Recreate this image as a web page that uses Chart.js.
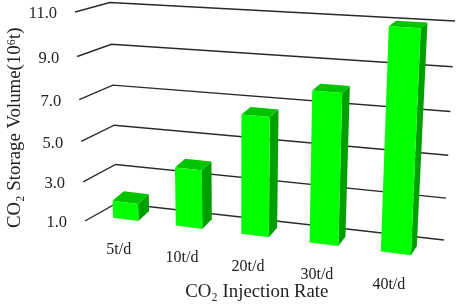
<!DOCTYPE html>
<html>
<head>
<meta charset="utf-8">
<style>
  html, body { margin: 0; padding: 0; background: #fff; }
  #wrap { width: 457px; height: 307px; }
</style>
<script src="https://cdn.jsdelivr.net/npm/chart.js@4"></script>
</head>
<body>
<div id="wrap"><canvas id="myChart" width="457" height="307"></canvas></div>
<script>
// Data
const categories = ['5t/d', '10t/d', '20t/d', '30t/d', '40t/d'];
const storageVolume = [1.85, 3.85, 6.65, 8.0, 11.0];
const tickLabels = ['1.0', '3.0', '5.0', '7.0', '9.0', '11.0'];

const textColor = '#222';
const fontName = '"Liberation Serif", "Times New Roman", serif';

// Maps the unit square onto a quad: [bottom-left, bottom-right, top-right, top-left]
function makeQuad(p) {
  const [p0, p1, p2, p3] = p;
  const dx1 = p1[0] - p2[0], dx2 = p3[0] - p2[0], sx = p0[0] - p1[0] + p2[0] - p3[0];
  const dy1 = p1[1] - p2[1], dy2 = p3[1] - p2[1], sy = p0[1] - p1[1] + p2[1] - p3[1];
  const den = dx1 * dy2 - dx2 * dy1;
  const g = (sx * dy2 - dx2 * sy) / den;
  const h = (dx1 * sy - sx * dy1) / den;
  const a = p1[0] - p0[0] + g * p1[0], b = p3[0] - p0[0] + h * p3[0];
  const d = p1[1] - p0[1] + g * p1[1], e = p3[1] - p0[1] + h * p3[1];
  return (u, v) => {
    const w = g * u + h * v + 1;
    return [(a * u + b * v + p0[0]) / w, (d * u + e * v + p0[1]) / w];
  };
}

// The tilted view of the plot
const backWall = makeQuad([[117, 203], [444, 240], [455, 21], [110, 2.5]]);
const sideWall = makeQuad([[85, 221], [117, 203], [110, 2.5], [75, 12]]);
const barPlane = makeQuad([[95, 215.4], [433, 258], [444, 29.5], [88, 9]]);

// How far the rear of a bar sits from its front, by position on the plot
function depthAt(u, v) {
  const dx = (11.5 * (1 - u) + 5.5 * u) * (1 - v) + (12 * (1 - u) + 6.5 * u) * v;
  const dy = (-10 * (1 - u) - 9 * u) * (1 - v) + (-6.5 * (1 - u) - 5.5 * u) * v;
  return [dx, dy];
}

function fillFace(ctx, pts, color) {
  ctx.fillStyle = color;
  ctx.beginPath();
  pts.forEach((p, i) => i ? ctx.lineTo(p[0], p[1]) : ctx.moveTo(p[0], p[1]));
  ctx.closePath();
  ctx.fill();
}

const view3d = {
  id: 'view3d',
  // gridlines and value labels
  beforeDatasetsDraw(chart) {
    const ctx = chart.ctx, yScale = chart.scales.y, area = chart.chartArea;
    ctx.save();
    ctx.strokeStyle = '#2a2a2a';
    ctx.lineWidth = 1.4;
    ctx.font = '16.5px ' + fontName;
    ctx.fillStyle = textColor;
    ctx.textAlign = 'right';
    ctx.textBaseline = 'middle';
    tickLabels.forEach(label => {
      const y = yScale.getPixelForValue(parseFloat(label));
      const v = (area.bottom - y) / (area.bottom - area.top);
      const front = sideWall(0, v), corner = backWall(0, v), end = backWall(1, v);
      ctx.beginPath();
      ctx.moveTo(front[0], front[1]);
      ctx.lineTo(corner[0], corner[1]);
      ctx.lineTo(end[0], end[1]);
      ctx.stroke();
      ctx.fillText(label, front[0] - 18, front[1] + 2);
    });
    ctx.restore();
  },
  // bars, with the positions the scales gave them
  beforeDatasetDraw(chart, args) {
    const ctx = chart.ctx, area = chart.chartArea;
    const uOf = x => (x - area.left) / (area.right - area.left);
    const vOf = y => (area.bottom - y) / (area.bottom - area.top);
    ctx.save();
    args.meta.data.forEach((bar, i) => {
      const u0 = uOf(bar.x - bar.width / 2), u1 = uOf(bar.x + bar.width / 2);
      const v0 = vOf(bar.base), v1 = vOf(bar.y);
      const back = (u, v) => {
        const p = barPlane(u, v), d = depthAt(u, v);
        return [p[0] + d[0], p[1] + d[1]];
      };
      fillFace(ctx, [barPlane(u1, v0), back(u1, v0), back(u1, v1), barPlane(u1, v1)], '#009f00');
      fillFace(ctx, [barPlane(u0, v1), barPlane(u1, v1), back(u1, v1), back(u0, v1)], '#00c400');
      fillFace(ctx, [barPlane(u0, v0), barPlane(u1, v0), barPlane(u1, v1), barPlane(u0, v1)], '#00ff00');

      const foot = barPlane(uOf(bar.x), v0);
      ctx.font = '16px ' + fontName;
      ctx.fillStyle = textColor;
      ctx.textAlign = 'center';
      ctx.textBaseline = 'middle';
      ctx.fillText(categories[i], foot[0] - 7, foot[1] + 31);
    });
    ctx.restore();
    return false;
  }
};

const ctx = document.getElementById('myChart').getContext('2d');
const myChart = new Chart(ctx, {
  type: 'bar',
  data: {
    labels: categories,
    datasets: [{
      label: 'CO₂ Storage Volume',
      data: storageVolume,
      base: 1,
      backgroundColor: '#00ff00',
      barPercentage: 0.41,
      categoryPercentage: 1
    }]
  },
  options: {
    responsive: false,
    animation: false,
    layout: { padding: { left: 4, right: 14, top: 19, bottom: 4 } },
    plugins: { legend: { display: false }, tooltip: { enabled: false } },
    scales: {
      x: {
        grid: { display: false },
        border: { display: false },
        ticks: { display: false },
        title: {
          display: true,
          text: 'CO₂ Injection Rate',
          color: textColor,
          font: { family: fontName, size: 18.8 },
          padding: { top: 36, bottom: 0 }
        }
      },
      y: {
        min: 1,
        max: 11,
        grid: { display: false },
        border: { display: false },
        ticks: { display: false, stepSize: 2 },
        title: {
          display: true,
          text: 'CO₂ Storage Volume(10⁶t)',
          color: textColor,
          font: { family: fontName, size: 18.8 },
          padding: { top: 0, bottom: 36 }
        }
      }
    }
  },
  plugins: [view3d]
});
</script>
</body>
</html>
